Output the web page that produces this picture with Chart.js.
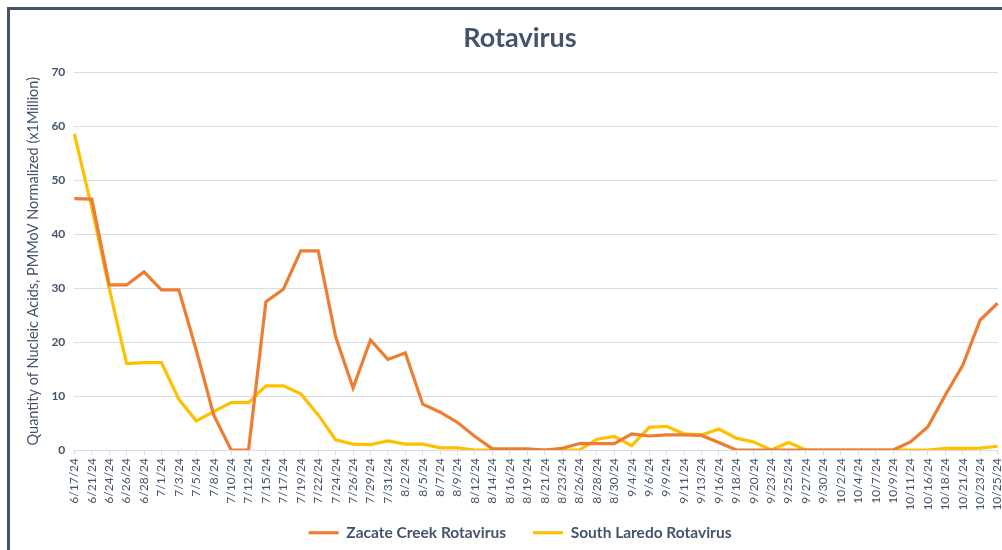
<!DOCTYPE html>
<html>
<head>
<meta charset="utf-8">
<script src="https://cdn.jsdelivr.net/npm/chart.js@4"></script>
<style>
  html, body { margin: 0; padding: 0; background: #fff; overflow: hidden; }
  #frame {
    position: absolute; left: 7px; top: 7px; width: 1010px; height: 560px;
    border-top: 3px solid #44546a; border-left: 3px solid #44546a;
  }
  #wrap { position: absolute; left: 0; top: 0; width: 1015px; height: 550px; }
</style>
</head>
<body>
<div id="frame"></div>
<div id="wrap"><canvas id="myChart"></canvas></div>
<script>
const dates = ['6/17/24', '6/21/24', '6/24/24', '6/26/24', '6/28/24', '7/1/24', '7/3/24', '7/5/24', '7/8/24',
  '7/10/24', '7/12/24', '7/15/24', '7/17/24', '7/19/24', '7/22/24', '7/24/24', '7/26/24', '7/29/24', '7/31/24',
  '8/2/24', '8/5/24', '8/7/24', '8/9/24', '8/12/24', '8/14/24', '8/16/24', '8/19/24', '8/21/24', '8/23/24',
  '8/26/24', '8/28/24', '8/30/24', '9/4/24', '9/6/24', '9/9/24', '9/11/24', '9/13/24', '9/16/24', '9/18/24',
  '9/20/24', '9/23/24', '9/25/24', '9/27/24', '9/30/24', '10/2/24', '10/4/24', '10/7/24', '10/9/24', '10/11/24',
  '10/16/24', '10/18/24', '10/21/24', '10/23/24', '10/25/24'];

const zacateCreek = [46.6, 46.5, 30.6, 30.6, 33.0, 29.7, 29.7, 18.5, 6.5,
  0, 0, 27.5, 29.8, 36.9, 36.9, 21.0, 11.5, 20.4, 16.8,
  18.0, 8.5, 7.0, 5.1, 2.5, 0.2, 0.2, 0.2, 0, 0.3,
  1.2, 1.2, 1.2, 3.0, 2.6, 2.8, 2.8, 2.7, 1.4, 0,
  0, 0, 0, 0, 0, 0, 0, 0, 0, 1.5,
  4.3, 10.2, 15.7, 24.1, 27.2];

const southLaredo = [58.6, 45.0, 30.0, 16.0, 16.2, 16.2, 9.4, 5.4, 7.1,
  8.8, 8.8, 11.9, 11.9, 10.4, 6.5, 1.9, 1.1, 1.0, 1.7,
  1.1, 1.1, 0.4, 0.4, 0, 0, 0, 0, 0, 0,
  0, 2.0, 2.5, 0.8, 4.2, 4.4, 3.0, 2.8, 3.9, 2.2,
  1.5, 0, 1.4, 0, 0, 0, 0, 0, 0, 0,
  0, 0.3, 0.3, 0.35, 0.7];

const yTicks = [0, 10, 20, 30, 40, 50, 60, 70];

const textColor = '#44546a';
const gridColor = '#d9dce8';

// make the legend box short and pull its top up, like the original
const legendSpot = {
  id: 'legendSpot',
  beforeInit(chart) {
    const fit = chart.legend.fit;
    chart.legend.fit = function () {
      fit.call(this);
      this.height = 35;
    };
  },
  afterLayout(chart) {
    chart.legend.top -= 17;
  }
};

const ctx = document.getElementById('myChart');

new Chart(ctx, {
  type: 'line',
  data: {
    labels: dates,
    datasets: [{
      label: 'Zacate Creek Rotavirus',
      data: zacateCreek,
      borderColor: '#ed7d31',
      backgroundColor: '#ed7d31',
      borderWidth: 3.2,
      pointRadius: 0,
      tension: 0
    }, {
      label: 'South Laredo Rotavirus',
      data: southLaredo,
      borderColor: '#ffc000',
      backgroundColor: '#ffc000',
      borderWidth: 3.2,
      pointRadius: 0,
      tension: 0
    }]
  },
  plugins: [legendSpot],
  options: {
    responsive: true,
    maintainAspectRatio: false,
    animation: false,
    layout: {
      padding: { left: 25, right: 0, top: 0, bottom: 0 }
    },
    scales: {
      x: {
        afterFit: axis => { axis.height = 65; },
        grid: {
          display: true,
          drawOnChartArea: false,
          drawTicks: true,
          tickLength: 5,
          color: gridColor
        },
        border: { color: gridColor, width: 1 },
        ticks: {
          autoSkip: false,
          maxRotation: 90,
          minRotation: 90,
          color: textColor,
          font: { family: 'Lato', size: 12 },
          padding: 3
        }
      },
      y: {
        min: 0,
        max: 70,
        afterBuildTicks: axis => { axis.ticks = yTicks.map(v => ({ value: v })); },
        grid: { color: gridColor, drawTicks: false },
        border: { display: false },
        ticks: {
          color: textColor,
          font: { family: 'Lato', size: 12, weight: 'bold' },
          padding: 9
        },
        title: {
          display: true,
          text: 'Quantity of Nucleic Acids, PMMoV Normalized (x1Million)',
          color: textColor,
          font: { family: 'Lato', size: 14.5 },
          padding: { top: 0, bottom: 0 }
        }
      }
    },
    plugins: {
      title: {
        display: true,
        text: 'Rotavirus',
        color: textColor,
        font: { family: 'Lato', size: 27, weight: 'bold' },
        padding: { top: 22, bottom: 18 }
      },
      legend: {
        position: 'bottom',
        labels: {
          usePointStyle: true,
          pointStyle: 'line',
          pointStyleWidth: 30,
          boxWidth: 30,
          padding: 27,
          color: textColor,
          font: { family: 'Lato', size: 15.5, weight: 'bold' }
        }
      },
      tooltip: { enabled: false }
    }
  }
});
</script>
</body>
</html>
